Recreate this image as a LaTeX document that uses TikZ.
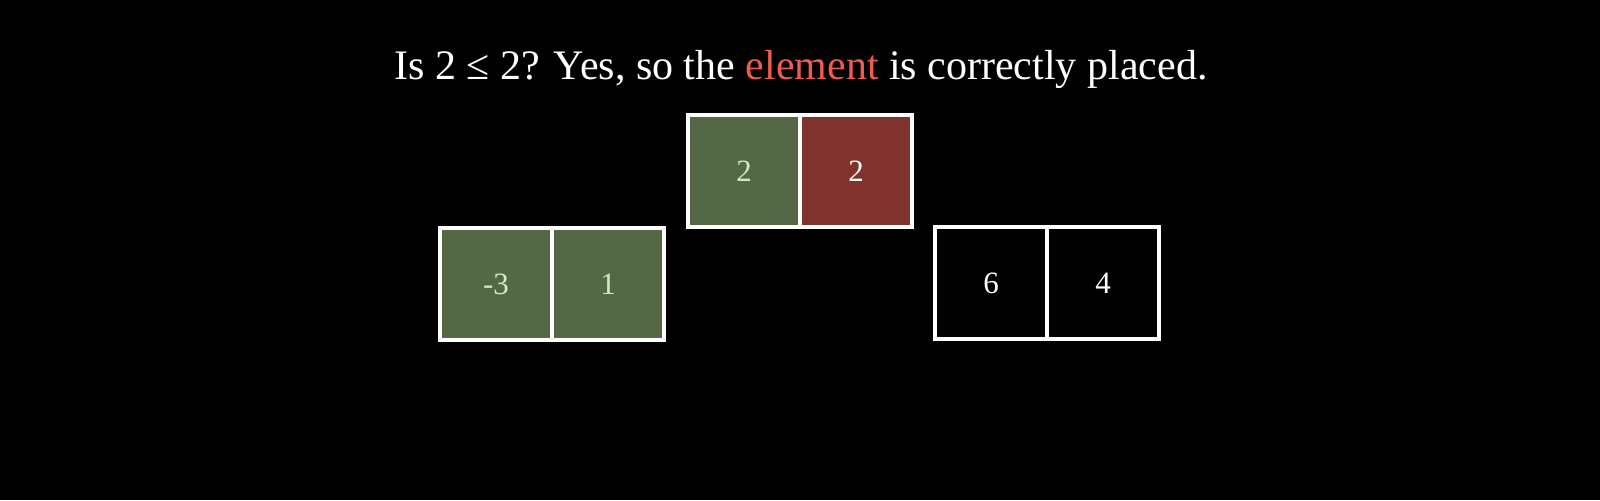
\documentclass[tikz,border=0pt]{standalone}
\usepackage{fontspec}
\setmainfont{Liberation Serif}
\definecolor{cellgreen}{RGB}{84,104,70}
\definecolor{cellred}{RGB}{127,51,44}
\definecolor{txtgreen}{RGB}{208,232,200}
\definecolor{hlred}{RGB}{240,90,80}
\tikzset{
  cell/.style={draw=white, line width=2pt, minimum width=56pt, minimum height=56pt, inner sep=0pt, font=\fontsize{15.5pt}{18pt}\selectfont},
  gcell/.style={cell, fill=cellgreen, text=txtgreen},
  rcell/.style={cell, fill=cellred, text=white},
  kcell/.style={cell, fill=black, text=white}
}
\begin{document}
\begin{tikzpicture}[x=0.5pt,y=-0.5pt]
\fill[black] (0,0) rectangle (1600,500);
\useasboundingbox (0,0) rectangle (1600,500);
\node[anchor=base, text=white, font=\fontsize{21pt}{25pt}\selectfont] (title) at (801,79) {Is 2 ≤ 2? Yes, so the \textcolor{hlred}{element} is correctly placed.};
\node[gcell] (t1) at (744,171) {2};
\node[rcell] (t2) at (856,171) {2};
\node[gcell] (l1) at (496,284) {-3};
\node[gcell] (l2) at (608,284) {1};
\node[kcell] (r1) at (991,283) {6};
\node[kcell] (r2) at (1103,283) {4};
\end{tikzpicture}
\end{document}
